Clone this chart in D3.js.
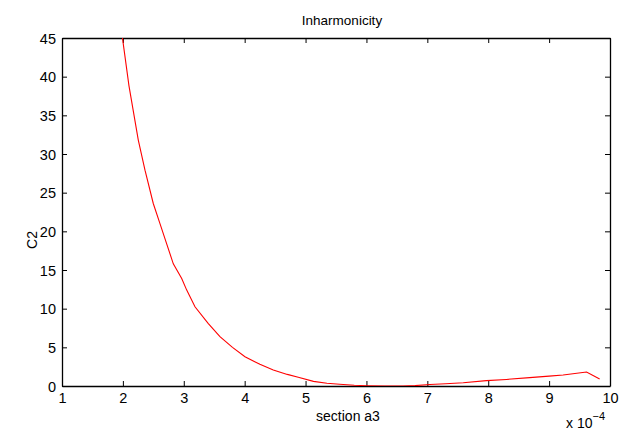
<!DOCTYPE html>
<html><head><meta charset="utf-8">
<script src="https://cdn.jsdelivr.net/npm/d3@7"></script>
<style>body{margin:0;background:#fff;} text{font-family:"Liberation Sans",Arial,Helvetica,sans-serif;fill:#000;}</style>
</head><body>
<svg id="c" width="634" height="430"></svg>
<script>
// section a3 (x 10^-4) and C2 values
const sectionA3 = [1.95, 2.10, 2.253, 2.363, 2.499, 2.609, 2.828, 2.966, 3.048, 3.184, 3.40, 3.594, 3.80, 4.005, 4.25, 4.47, 4.70, 4.88, 5.13, 5.35, 5.56, 5.80, 6.00, 6.30, 6.60, 6.80, 7.04, 7.30, 7.59, 7.97, 8.30, 8.68, 9.00, 9.23, 9.615, 9.83];
const c2Values   = [47.5, 38.8, 31.8, 27.9, 23.6, 21.0, 15.8, 13.9, 12.4, 10.25, 8.1, 6.38, 5.0, 3.79, 2.8, 2.07, 1.5, 1.13, 0.6, 0.35, 0.22, 0.1, 0.04, 0.0, 0.0, 0.05, 0.2, 0.3, 0.43, 0.69, 0.85, 1.08, 1.28, 1.42, 1.81, 0.9];
const xTicks = [1,2,3,4,5,6,7,8,9,10];
const yTicks = [0,5,10,15,20,25,30,35,40,45];

const svg = d3.select("#c");
const L = 62, R = 610, T = 38, B = 386;
const x = d3.scaleLinear().domain([1,10]).range([L,R]);
const y = d3.scaleLinear().domain([0,45]).range([B,T]);

svg.append("defs").append("clipPath").attr("id","clip")
  .append("rect").attr("x",L).attr("y",T).attr("width",R-L).attr("height",B-T);

const tl = 5;
const gb = svg.append("g").attr("transform",`translate(0,${B})`)
  .call(d3.axisBottom(x).tickValues(xTicks).tickFormat(d3.format("d")).tickSizeInner(-tl).tickSizeOuter(0).tickPadding(7));
const gt = svg.append("g").attr("transform",`translate(0,${T})`)
  .call(d3.axisTop(x).tickValues(xTicks).tickFormat("").tickSizeInner(-tl).tickSizeOuter(0));
const gl = svg.append("g").attr("transform",`translate(${L},0)`)
  .call(d3.axisLeft(y).tickValues(yTicks).tickFormat(d3.format("d")).tickSizeInner(-tl).tickSizeOuter(0).tickPadding(6));
const gr = svg.append("g").attr("transform",`translate(${R},0)`)
  .call(d3.axisRight(y).tickValues(yTicks).tickFormat("").tickSizeInner(-tl).tickSizeOuter(0));

[gb,gt,gl,gr].forEach(g=>{
  g.select(".domain").attr("stroke","#000").attr("stroke-width",1.3);
  g.selectAll(".tick line").attr("stroke","#000").attr("stroke-width",1);
  g.selectAll(".tick text").attr("font-size",14.5).attr("font-family","Liberation Sans, Arial, sans-serif").attr("fill","#000");
});
gb.selectAll(".tick text").attr("dy","0.71em");
gl.selectAll(".tick text").attr("dy","0.35em");

const line = d3.line().x((d,i)=>x(sectionA3[i])).y(d=>y(d));
svg.append("path").datum(c2Values)
  .attr("clip-path","url(#clip)")
  .attr("d",line).attr("fill","none").attr("stroke","#ff0000").attr("stroke-width",1.1);

svg.append("text").attr("x",(L+R)/2+6).attr("y",25).attr("text-anchor","middle").attr("font-size",13.5).text("Inharmonicity");
svg.append("text").attr("x",(L+R)/2+12).attr("y",421).attr("text-anchor","middle").attr("font-size",14).text("section a3");
svg.append("text").attr("transform",`translate(37,240) rotate(-90)`).attr("text-anchor","middle").attr("font-size",14).text("C2");
const ex = svg.append("text").attr("x",566).attr("y",428).attr("font-size",14);
ex.append("tspan").text("x 10");
ex.append("tspan").attr("dy",-8).attr("font-size",11).text("\u22124");
</script>
</body></html>
